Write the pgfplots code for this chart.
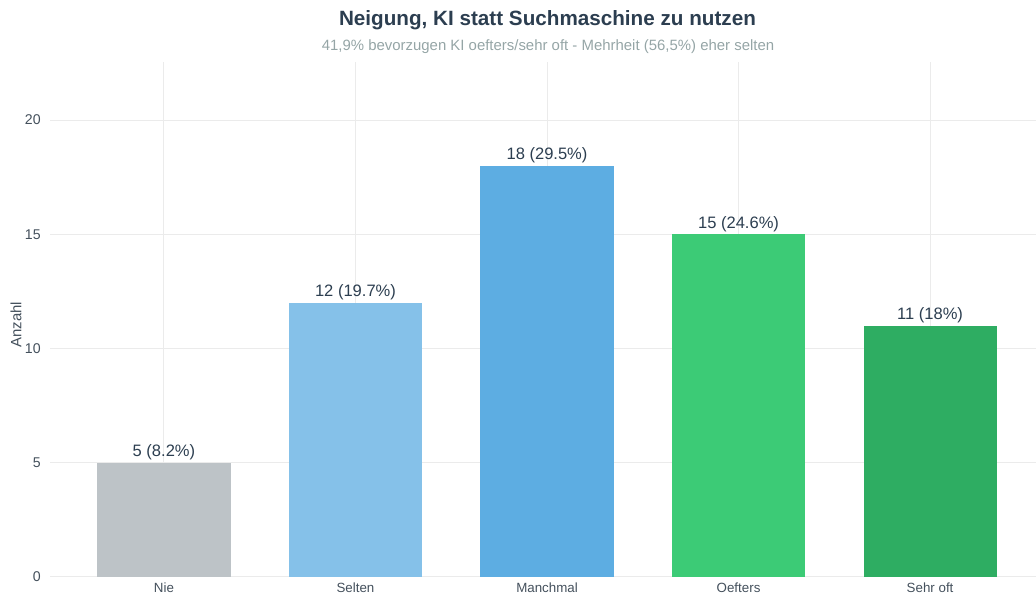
\documentclass[border=0pt]{standalone}
\usepackage{pgfplots}
\pgfplotsset{compat=1.18}
\usepackage{fontspec}
\setmainfont{Liberation Sans}
\definecolor{cNie}{HTML}{BDC3C7}
\definecolor{cSel}{HTML}{85C1E9}
\definecolor{cMan}{HTML}{5DADE2}
\definecolor{cOef}{HTML}{3CCB76}
\definecolor{cSeh}{HTML}{2EAD62}
\definecolor{titlec}{HTML}{2C3E50}
\definecolor{subc}{HTML}{95A5A6}
\definecolor{tickc}{HTML}{44505C}
\definecolor{gridc}{HTML}{EBEBEB}
\begin{document}
\begin{tikzpicture}
\useasboundingbox (0,0) rectangle (777pt,448.5pt);
\node[font=\bfseries\fontsize{15.5}{18}\selectfont,text=titlec] at (410.6pt,433.5pt) {Neigung, KI statt Suchmaschine zu nutzen};
\node[font=\fontsize{11.2}{13}\selectfont,text=subc] at (411pt,413.25pt) {41,9\% bevorzugen KI oefters/sehr oft - Mehrheit (56,5\%) eher selten};
\begin{axis}[
  at={(37.5pt,15.75pt)}, anchor=south west,
  scale only axis, width=739.5pt, height=386.25pt,
  xmin=-0.595, xmax=4.553, ymin=0, ymax=22.54,
  axis line style={draw=none},
  major tick length=0pt,
  xtick={0,1,2,3,4},
  xticklabels={Nie,Selten,Manchmal,Oefters,Sehr oft},
  ytick={0,5,10,15,20},
  xmajorgrids, ymajorgrids,
  grid style={gridc, line width=0.75pt},
  tick label style={text=tickc, font=\fontsize{10}{11}\selectfont},
  yticklabel style={font=\fontsize{10.6}{12}\selectfont, xshift=-3.5pt},
  /pgf/number format/assume math mode=true,
  xticklabel style={yshift=-3pt, inner sep=1.5pt},
  ylabel={Anzahl},
  ylabel style={text=tickc, font=\fontsize{11.2}{13}\selectfont, at={(axis description cs:-0.0345,0.49)}, anchor=center, rotate=0},
  ybar, bar width=0.695, bar shift=0pt,
  nodes near coords, point meta=explicit symbolic,
  every node near coord/.append style={text=titlec, font=\fontsize{12.4}{14}\selectfont, yshift=-1.5pt},
]
\addplot[fill=cNie, draw=none] coordinates {(0,5) [5 (8.2\%)]};
\addplot[fill=cSel, draw=none] coordinates {(1,12) [12 (19.7\%)]};
\addplot[fill=cMan, draw=none] coordinates {(2,18) [18 (29.5\%)]};
\addplot[fill=cOef, draw=none] coordinates {(3,15) [15 (24.6\%)]};
\addplot[fill=cSeh, draw=none] coordinates {(4,11) [11 (18\%)]};
\end{axis}
\end{tikzpicture}
\end{document}
